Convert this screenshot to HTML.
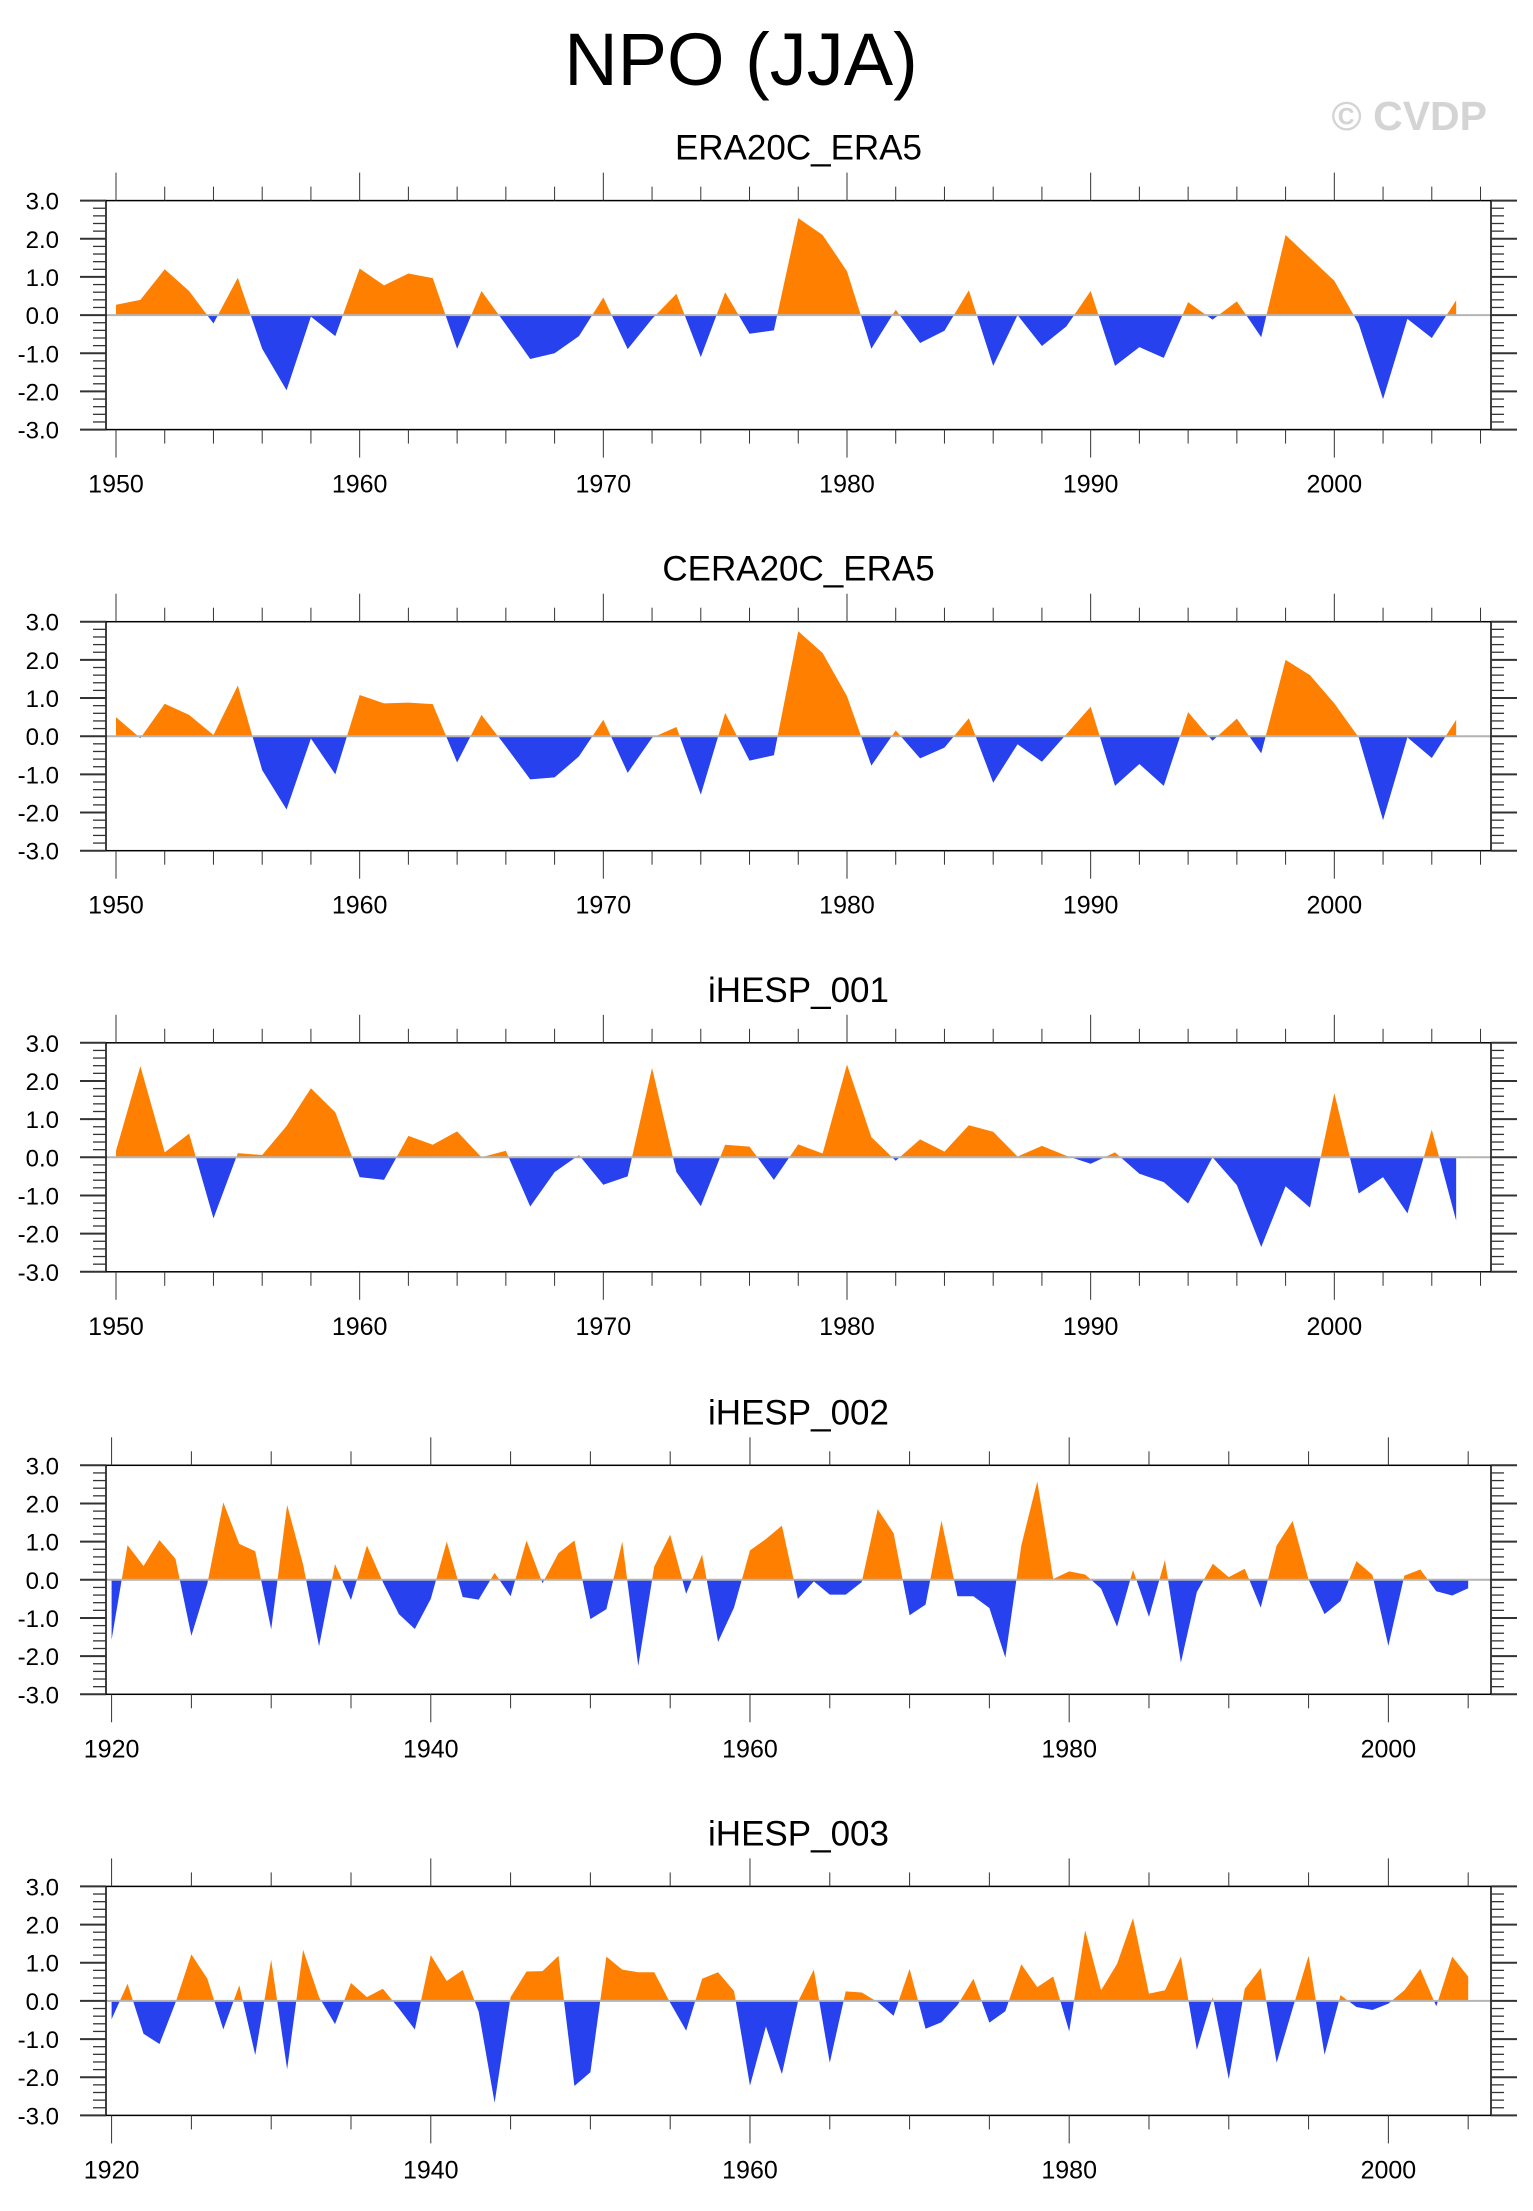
<!DOCTYPE html>
<html><head><meta charset="utf-8"><style>
html,body{margin:0;padding:0;background:#fff;}
svg{display:block;font-family:"Liberation Sans",sans-serif;}
</style></head><body>
<svg id="chart" width="1533" height="2211" viewBox="0 0 1533 2211" xmlns="http://www.w3.org/2000/svg">
<text x="741" y="85" font-size="74" text-anchor="middle" fill="#000">NPO (JJA)</text>
<text x="1487" y="130" font-size="41" font-weight="bold" text-anchor="end" fill="#d4d4d4">© CVDP</text>
</svg>
<script>
const titles = ["ERA20C_ERA5","CERA20C_ERA5","iHESP_001","iHESP_002","iHESP_003"];
const startYears = [1950,1950,1950,1920,1920];
const era20c = [0.27,0.4,1.2,0.63,-0.22,0.98,-0.88,-1.97,-0.04,-0.55,1.22,0.78,1.09,0.97,-0.88,0.63,-0.25,-1.15,-1.0,-0.55,0.46,-0.89,-0.1,0.56,-1.1,0.6,-0.49,-0.4,2.54,2.1,1.15,-0.88,0.14,-0.73,-0.41,0.65,-1.33,0.0,-0.81,-0.3,0.63,-1.33,-0.84,-1.12,0.34,-0.12,0.36,-0.58,2.1,1.5,0.9,-0.23,-2.2,-0.1,-0.6,0.39];
const cera20c = [0.5,-0.05,0.85,0.56,0.03,1.33,-0.89,-1.92,-0.06,-1.0,1.08,0.86,0.88,0.84,-0.69,0.56,-0.27,-1.13,-1.08,-0.53,0.43,-0.96,-0.04,0.24,-1.53,0.61,-0.64,-0.5,2.75,2.18,1.05,-0.77,0.15,-0.58,-0.3,0.47,-1.22,-0.21,-0.67,0.05,0.77,-1.3,-0.73,-1.3,0.63,-0.12,0.46,-0.45,2.0,1.6,0.86,-0.03,-2.2,-0.03,-0.57,0.43];
const ihesp001 = [0.17,2.39,0.13,0.62,-1.6,0.11,0.06,0.82,1.81,1.18,-0.52,-0.59,0.56,0.33,0.68,0.0,0.17,-1.29,-0.39,0.06,-0.72,-0.5,2.34,-0.39,-1.28,0.33,0.28,-0.59,0.34,0.1,2.43,0.53,-0.09,0.47,0.15,0.84,0.67,0.02,0.3,0.04,-0.17,0.13,-0.43,-0.65,-1.21,0.0,-0.73,-2.35,-0.76,-1.32,1.68,-0.95,-0.52,-1.47,0.73,-1.66];
const ihesp002 = [-1.57,0.91,0.36,1.04,0.55,-1.47,-0.1,2.03,0.94,0.75,-1.3,1.96,0.4,-1.74,0.41,-0.53,0.9,-0.06,-0.9,-1.29,-0.5,1.0,-0.45,-0.52,0.18,-0.43,1.03,-0.09,0.7,1.03,-1.03,-0.77,1.0,-2.26,0.35,1.18,-0.37,0.66,-1.63,-0.73,0.77,1.07,1.42,-0.5,-0.04,-0.39,-0.39,-0.06,1.85,1.22,-0.93,-0.65,1.55,-0.43,-0.43,-0.74,-2.04,0.9,2.58,0.02,0.22,0.14,-0.23,-1.23,0.26,-0.97,0.52,-2.17,-0.32,0.42,0.07,0.29,-0.73,0.9,1.54,0.0,-0.9,-0.56,0.49,0.13,-1.73,0.11,0.27,-0.3,-0.41,-0.22];
const ihesp003 = [-0.48,0.45,-0.86,-1.13,-0.05,1.22,0.58,-0.75,0.41,-1.42,1.08,-1.79,1.34,0.1,-0.61,0.47,0.1,0.32,-0.2,-0.75,1.2,0.52,0.81,-0.28,-2.67,0.1,0.77,0.78,1.18,-2.23,-1.87,1.16,0.82,0.75,0.75,-0.05,-0.78,0.58,0.75,0.26,-2.22,-0.67,-1.92,-0.03,0.82,-1.62,0.25,0.22,-0.03,-0.39,0.84,-0.73,-0.56,-0.11,0.58,-0.57,-0.27,0.96,0.36,0.64,-0.8,1.85,0.28,0.97,2.17,0.19,0.28,1.16,-1.28,0.1,-2.05,0.32,0.86,-1.62,-0.2,1.18,-1.41,0.15,-0.16,-0.24,-0.07,0.28,0.84,-0.14,1.16,0.64];
const yTickLabels = ["3.0","2.0","1.0","0.0","-1.0","-2.0","-3.0"];
const yTickValues = [3,2,1,0,-1,-2,-3];
const allSeries = [era20c,cera20c,ihesp001,ihesp002,ihesp003];

const NS = "http://www.w3.org/2000/svg";
const svg = document.getElementById('chart');
function mk(tag, attrs, parent){ const e=document.createElementNS(NS,tag); for(const k in attrs) e.setAttribute(k,attrs[k]); (parent||svg).appendChild(e); return e; }

const L=106, R=1491, H=229;
const tops=[200.6,621.7,1042.8,1465.3,1886.4];

allSeries.forEach((vals,p)=>{
  const top=tops[p], bot=top+H;
  const y0 = startYears[p]===1950 ? 1949.59 : 1919.65, y1 = 2006.43;
  const xs = yr => L + (yr - y0)/(y1-y0)*(R-L);
  const ys = v => top + (3 - v)/6*H;
  const g = mk('g',{});
  
  
  const t = mk('text',{x:(L+R)/2,y:top-41,'font-size':35,'text-anchor':'middle',fill:'#000'},g);
  
  
  t.textContent=titles[p];
  const cid='c'+p;
  const cp=mk('clipPath',{id:cid+'a'},g); mk('rect',{x:L,y:top,width:R-L,height:ys(0)-top},cp);
  const cn=mk('clipPath',{id:cid+'b'},g); mk('rect',{x:L,y:ys(0),width:R-L,height:bot-ys(0)},cn);
  let d='M'+xs(startYears[p]).toFixed(2)+','+ys(0).toFixed(2);
  vals.forEach((v,i)=>{ d+=' L'+xs(startYears[p]+i).toFixed(2)+','+ys(v).toFixed(2); });
  d+=' L'+xs(startYears[p]+vals.length-1).toFixed(2)+','+ys(0).toFixed(2)+' Z';
  const pos=mk('path',{d:d,fill:'#ff8000','clip-path':'url(#'+cid+'a)'},g);
  
  
  const neg=mk('path',{d:d,fill:'#2641ed','clip-path':'url(#'+cid+'b)'},g);
  
  
  const zl=mk('line',{x1:L,x2:R,y1:ys(0),y2:ys(0),stroke:'#b4b4b4','stroke-width':2},g);
  
  
  const box=mk('rect',{x:L,y:top,width:R-L,height:H,fill:'none',stroke:'#000','stroke-width':1.5},g);
  
  
  for(let k=0;k<=30;k++){
    const v=3-k*0.2, yy=ys(v), major=(k%5===0);
    const len=major?26:13;
    mk('line',{x1:L-len,x2:L,y1:yy,y2:yy,stroke:'#333','stroke-width':major?2:1.3},g);
    mk('line',{x1:R,x2:R+len,y1:yy,y2:yy,stroke:'#333','stroke-width':major?2:1.3},g);
  }
  yTickValues.forEach((v,i)=>{
    const tl=mk('text',{x:59,y:ys(v)+9,'font-size':24,'text-anchor':'end',fill:'#000'},g);
    
    
    tl.textContent=yTickLabels[i];
  });
  const minorStep = startYears[p]===1950?2:5;
  const majorStep = startYears[p]===1950?10:20;
  for(let yr=startYears[p]; yr<=2006; yr+=minorStep){
    const xx=xs(yr), major=((yr-startYears[p])%majorStep===0);
    const len=major?28:14;
    mk('line',{x1:xx,x2:xx,y1:top-len,y2:top,stroke:'#333','stroke-width':1},g);
    mk('line',{x1:xx,x2:xx,y1:bot,y2:bot+len,stroke:'#333','stroke-width':1},g);
    if(major){
      const xl=mk('text',{x:xx,y:bot+63,'font-size':25,'text-anchor':'middle',fill:'#000'},g);
      
      
      xl.textContent=String(yr);
    }
  }
});
</script>
</body></html>
